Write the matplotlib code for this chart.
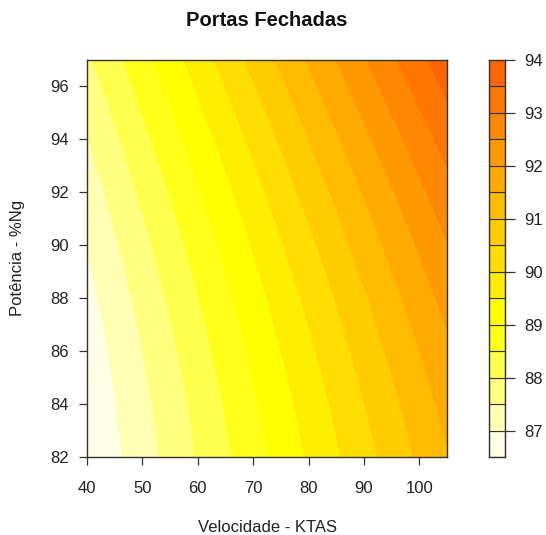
import numpy as np
import matplotlib
matplotlib.use("Agg")
import matplotlib.pyplot as plt

plt.rcParams["font.family"] = ["Liberation Sans", "DejaVu Sans"]

# Grid of the measured surface: velocity (KTAS) x power (%Ng)
velocidade = [40, 50, 60, 70, 80, 90, 100, 105]
potencia = [82, 84, 86, 88, 90, 92, 94, 96, 97]
z_82 = [86.51, 87.27, 88.03, 88.79, 89.55, 90.31, 91.07, 91.45]
z_84 = [86.58, 87.36, 88.14, 88.92, 89.70, 90.48, 91.26, 91.65]
z_86 = [86.69, 87.49, 88.29, 89.09, 89.89, 90.69, 91.49, 91.89]
z_88 = [86.83, 87.65, 88.47, 89.29, 90.11, 90.93, 91.75, 92.16]
z_90 = [87.01, 87.85, 88.69, 89.53, 90.37, 91.21, 92.05, 92.47]
z_92 = [87.22, 88.08, 88.94, 89.80, 90.66, 91.52, 92.38, 92.81]
z_94 = [87.47, 88.35, 89.23, 90.11, 90.99, 91.87, 92.75, 93.19]
z_96 = [87.75, 88.65, 89.55, 90.45, 91.35, 92.25, 93.15, 93.60]
z_97 = [87.90, 88.81, 89.72, 90.63, 91.54, 92.45, 93.36, 93.82]

niveis = [86.5, 87.0, 87.5, 88.0, 88.5, 89.0, 89.5, 90.0,
          90.5, 91.0, 91.5, 92.0, 92.5, 93.0, 93.5, 94.0]
cores = ["#FFFFE6", "#FFFFB3", "#FFFF80", "#FFFF4D", "#FFFF1A",
         "#FFFF00", "#FFEE00", "#FFDD00", "#FFCC00", "#FFBB00",
         "#FFAA00", "#FF9900", "#FF8800", "#FF7700", "#FF6600"]
ticks_x = [40, 50, 60, 70, 80, 90, 100]
ticks_y = [82, 84, 86, 88, 90, 92, 94, 96]
ticks_cb = [87, 88, 89, 90, 91, 92, 93, 94]

W, H = 546, 535
fig = plt.figure(figsize=(W / 100, H / 100), dpi=100)
fig.patch.set_facecolor("white")

ax = fig.add_axes([87 / W, 1 - 457 / H, 360 / W, 397 / H])
Z = np.array([z_82, z_84, z_86, z_88, z_90, z_92, z_94, z_96, z_97])
cs = ax.contourf(velocidade, potencia, Z, levels=niveis, colors=cores)
cs.set_edgecolor("face")
cs.set_linewidth(0.4)
ax.set_xlim(40, 105)
ax.set_ylim(82, 97)
ax.set_xticks(ticks_x)
ax.set_yticks(ticks_y)
ax.tick_params(direction="out", length=6, width=0.9, labelsize=12,
               color="#333333", labelcolor="#222222")
ax.tick_params(axis="x", pad=11)
ax.tick_params(axis="y", pad=7)
for s in ax.spines.values():
    s.set_color("#333333")
    s.set_linewidth(1.0)

# Colour key
cax = fig.add_axes([489 / W, 1 - 457 / H, 16 / W, 397 / H])
for i, c in enumerate(cores):
    cax.bar(0.5, niveis[i + 1] - niveis[i], bottom=niveis[i], width=1.0,
            color=c, edgecolor="#333333", linewidth=0.8)
cax.set_xlim(0, 1)
cax.set_ylim(niveis[0], niveis[-1])
cax.set_xticks([])
cax.set_yticks(ticks_cb)
cax.yaxis.tick_right()
cax.tick_params(axis="y", direction="out", length=7, width=0.9,
                labelsize=12, color="#333333", labelcolor="#222222", pad=7)
for s in cax.spines.values():
    s.set_color("#333333")
    s.set_linewidth(1.0)

fig.text(267 / W, 1 - 21 / H, "Portas Fechadas", ha="center", va="center",
         fontsize=14.5, fontweight="bold", color="#111111")
fig.text(267 / W, 1 - 527 / H, "Velocidade - KTAS", ha="center", va="center",
         fontsize=12, color="#222222")
fig.text(18 / W, 1 - 258 / H, "Potência - %Ng", ha="center", va="center",
         rotation=90, fontsize=12, color="#222222")

fig.savefig("out.png", dpi=100, facecolor="white")
